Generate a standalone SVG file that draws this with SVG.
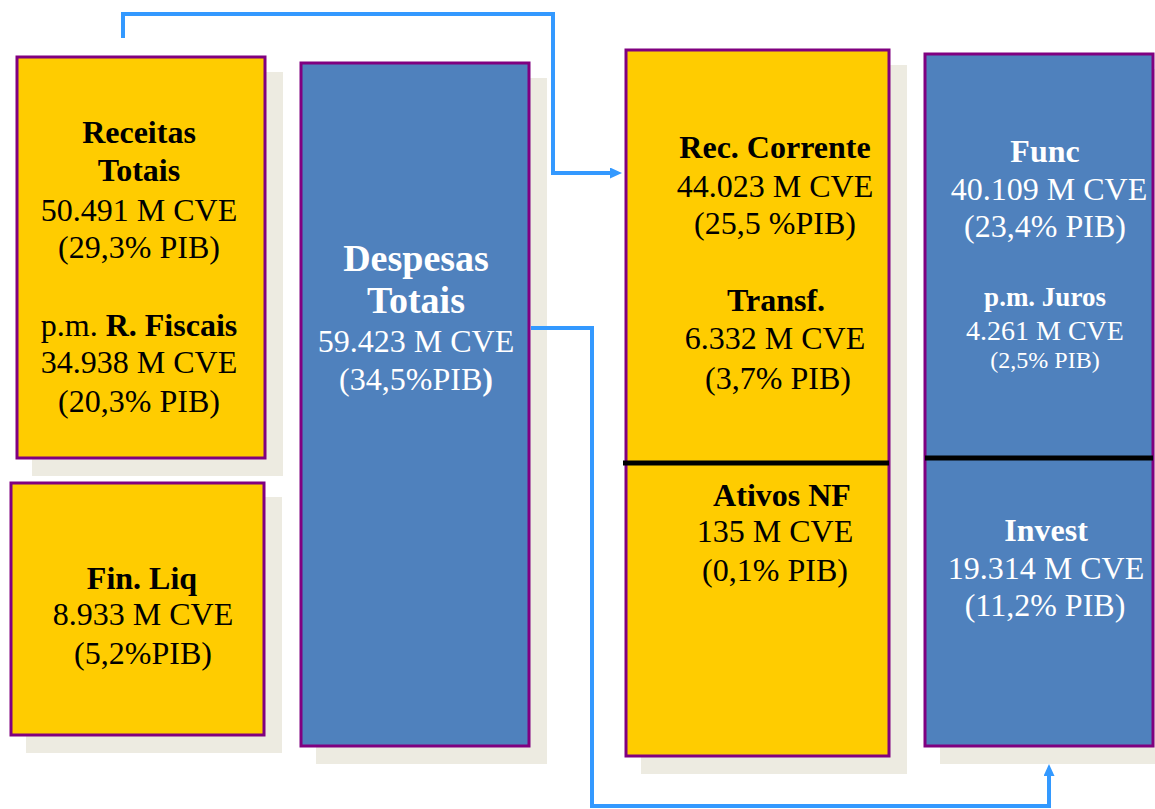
<svg xmlns="http://www.w3.org/2000/svg" width="1155" height="809" viewBox="0 0 1155 809">
<style>
.sh{fill:#EDEBE1}
.y{fill:#FFCC00;stroke:#800080;stroke-width:3}
.b{fill:#4F81BD;stroke:#800080;stroke-width:3}
text{font-family:"Liberation Serif","Times New Roman",serif;font-size:32px;text-anchor:middle}
.k{fill:#000}
.w{fill:#fff}
.bd{font-weight:bold}
.sep{stroke:#000;stroke-width:5}
.c{fill:none;stroke:#3399FF;stroke-width:4}
</style>
<defs>
<marker id="ah" markerWidth="12" markerHeight="11" refX="3" refY="5.5" orient="auto" markerUnits="userSpaceOnUse" viewBox="0 0 12 11">
<path d="M0,0 L12,5.5 L0,11 z" fill="#3399FF"/>
</marker>
</defs>
<rect width="1155" height="809" fill="#fff"/>

<g id="receitas">
<rect class="sh" x="32" y="72" width="251" height="404"/>
<rect class="y" x="17" y="57" width="248" height="401"/>
<text class="k bd" x="139" y="143">Receitas</text>
<text class="k bd" x="139" y="181">Totais</text>
<text class="k" x="139" y="221">50.491 M CVE</text>
<text class="k" x="139" y="258">(29,3% PIB)</text>
<text class="k" x="139" y="336">p.m. <tspan class="bd">R. Fiscais</tspan></text>
<text class="k" x="139" y="373">34.938 M CVE</text>
<text class="k" x="139" y="412">(20,3% PIB)</text>
</g>

<g id="finliq">
<rect class="sh" x="26" y="497" width="256" height="256"/>
<rect class="y" x="11" y="483" width="253" height="252"/>
<text class="k bd" x="142" y="589">Fin. Liq</text>
<text class="k" x="143" y="625">8.933 M CVE</text>
<text class="k" x="143" y="664">(5,2%PIB)</text>
</g>

<g id="despesas">
<rect class="sh" x="316" y="78" width="231" height="686"/>
<rect class="b" x="301" y="63" width="228" height="683"/>
<text class="w bd" x="416" y="271" style="font-size:38px">Despesas</text>
<text class="w bd" x="416" y="313" style="font-size:38px">Totais</text>
<text class="w" x="416" y="352">59.423 M CVE</text>
<text class="w" x="416" y="390">(34,5%PIB<tspan class="bd">)</tspan></text>
</g>

<g id="receitas-detalhe">
<rect class="sh" x="641" y="65" width="266" height="709"/>
<rect class="y" x="626" y="50" width="263" height="706"/>
<line class="sep" x1="623" y1="463" x2="889" y2="463"/>
<text class="k bd" x="775" y="158">Rec. Corrente</text>
<text class="k" x="775" y="197">44.023 M CVE</text>
<text class="k" x="775" y="234">(25,5 %PIB)</text>
<text class="k bd" x="776" y="311">Transf.</text>
<text class="k" x="775" y="349">6.332 M CVE</text>
<text class="k" x="778" y="389">(3,7% PIB)</text>
<text class="k bd" x="782" y="506">Ativos NF</text>
<text class="k" x="775" y="542">135 M CVE</text>
<text class="k" x="775" y="581">(0,1% PIB)</text>
</g>

<g id="despesas-detalhe">
<rect class="sh" x="940" y="69" width="215" height="695"/>
<rect class="b" x="925" y="54" width="228" height="692"/>
<line class="sep" x1="925" y1="458" x2="1153" y2="458"/>
<text class="w bd" x="1045" y="162">Func</text>
<text class="w" x="1049" y="200">40.109 M CVE</text>
<text class="w" x="1045" y="237">(23,4% PIB)</text>
<text class="w bd" x="1045" y="306" style="font-size:27px">p.m. Juros</text>
<text class="w" x="1045" y="340" style="font-size:28px">4.261 M CVE</text>
<text class="w" x="1045" y="368" style="font-size:24px">(2,5% PIB)</text>
<text class="w bd" x="1046" y="541">Invest</text>
<text class="w" x="1046" y="579">19.314 M CVE</text>
<text class="w" x="1045" y="616">(11,2% PIB)</text>
</g>

<g id="connectors">
<polyline class="c" points="123,38 123,14 553,14 553,173 613,173" marker-end="url(#ah)"/>
<polyline class="c" points="531,328 592,328 592,806 1049,806 1049,773" marker-end="url(#ah)"/>
</g>
</svg>
